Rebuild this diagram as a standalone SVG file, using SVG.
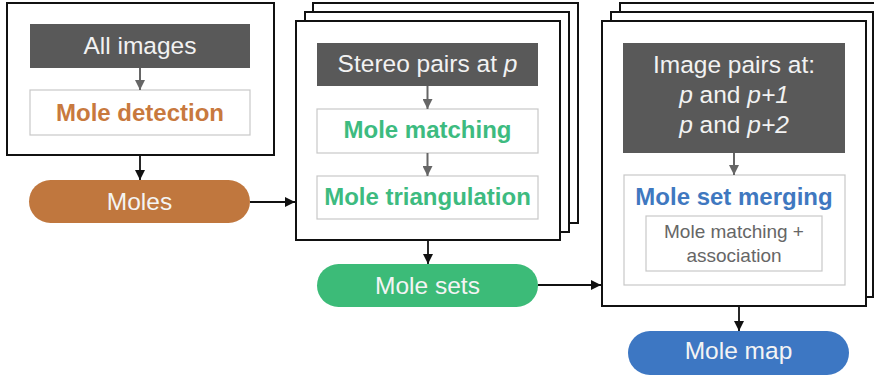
<svg xmlns="http://www.w3.org/2000/svg" width="874" height="376" viewBox="0 0 874 376">
  <defs>
    <marker id="headBlack" viewBox="0 0 10 10" refX="10" refY="5" markerWidth="10" markerHeight="10" markerUnits="userSpaceOnUse" orient="auto">
      <path d="M0,0 L10,5 L0,10 z" fill="#111"/>
    </marker>
    <marker id="headGray" viewBox="0 0 10 10" refX="10" refY="5" markerWidth="11" markerHeight="10" markerUnits="userSpaceOnUse" orient="auto">
      <path d="M0,0 L10,5 L0,10 z" fill="#666"/>
    </marker>
  </defs>
  <style>
    text { font-family: "Liberation Sans", Arial, sans-serif; text-anchor: middle; }
    .panel { fill: #fff; stroke: #111; stroke-width: 2; }
    .dark { fill: #595959; }
    .dark-text { fill: #f2f2f2; font-size: 24.5px; }
    .step { fill: #fff; stroke: #c8c8c8; stroke-width: 1.2; }
    .bold { font-weight: bold; font-size: 24px; }
    .pill-text { fill: #f4f4f4; font-size: 24.5px; }
    .small { fill: #666; font-size: 19px; }
    .inner-arrow { stroke: #666; stroke-width: 2; fill: none; }
    .outer-arrow { stroke: #111; stroke-width: 1.8; fill: none; }
  </style>

  <rect width="874" height="376" fill="#fff"/>

  <!-- Stage 1: detection over all images -->
  <g id="stage-detection">
    <rect class="panel" x="7" y="3" width="267" height="152"/>
    <rect class="dark" x="30" y="24" width="220" height="44"/>
    <text class="dark-text" x="140" y="54">All images</text>
    <rect class="step" x="30" y="90" width="220" height="45"/>
    <text class="bold" x="140" y="121" fill="#c8793e">Mole detection</text>
  </g>

  <g id="moles">
    <rect x="29" y="180" width="221" height="43" rx="21.5" fill="#c0773e"/>
    <text class="pill-text" x="139.5" y="210">Moles</text>
  </g>

  <!-- Stage 2: stacked per-position stereo processing -->
  <g id="stage-stereo">
    <rect class="panel" x="313" y="3" width="265" height="220"/>
    <rect class="panel" x="305" y="12" width="264" height="220"/>
    <rect class="panel" x="296" y="21" width="264" height="219"/>
    <rect class="dark" x="317" y="43" width="221" height="43"/>
    <text class="dark-text" x="427.5" y="72">Stereo pairs at <tspan font-style="italic">p</tspan></text>
    <rect class="step" x="317" y="109" width="221" height="44"/>
    <text class="bold" x="427.5" y="138" fill="#3dbb80">Mole matching</text>
    <rect class="step" x="317" y="176" width="221" height="43"/>
    <text class="bold" x="427.5" y="205" fill="#3dbb80">Mole triangulation</text>
  </g>

  <g id="mole-sets">
    <rect x="317" y="264" width="221" height="43" rx="21.5" fill="#3cbb78"/>
    <text class="pill-text" x="427.5" y="294">Mole sets</text>
  </g>

  <!-- Stage 3: stacked merging of mole sets -->
  <g id="stage-merging">
    <rect class="panel" x="620" y="3" width="262" height="285"/>
    <rect class="panel" x="611" y="12" width="262" height="285"/>
    <rect class="panel" x="602" y="21" width="264" height="285"/>
    <rect class="dark" x="623" y="43" width="222" height="110"/>
    <text class="dark-text" x="734" y="73">Image pairs at:</text>
    <text class="dark-text" x="734" y="103"><tspan font-style="italic">p</tspan> and <tspan font-style="italic">p+1</tspan></text>
    <text class="dark-text" x="734" y="133"><tspan font-style="italic">p</tspan> and <tspan font-style="italic">p+2</tspan></text>
    <rect class="step" x="624" y="175" width="221" height="110"/>
    <text class="bold" x="734" y="205" fill="#3f78c0">Mole set merging</text>
    <rect class="step" x="646" y="216" width="176" height="55"/>
    <text class="small" x="734" y="238">Mole matching +</text>
    <text class="small" x="734" y="262">association</text>
  </g>

  <g id="mole-map">
    <rect x="628" y="331" width="221" height="44" rx="22" fill="#3d77c3"/>
    <text class="pill-text" x="738.5" y="359">Mole map</text>
  </g>

  <g id="connectors">
    <line class="inner-arrow" x1="140" y1="68" x2="140" y2="90" marker-end="url(#headGray)"/>
    <line class="inner-arrow" x1="427.5" y1="86" x2="427.5" y2="109" marker-end="url(#headGray)"/>
    <line class="inner-arrow" x1="427.5" y1="153" x2="427.5" y2="176" marker-end="url(#headGray)"/>
    <line class="inner-arrow" x1="734" y1="153" x2="734" y2="175" marker-end="url(#headGray)"/>
    <line class="outer-arrow" x1="140" y1="156" x2="140" y2="180" marker-end="url(#headBlack)"/>
    <line class="outer-arrow" x1="250" y1="202" x2="295" y2="202" marker-end="url(#headBlack)"/>
    <line class="outer-arrow" x1="428" y1="241" x2="428" y2="264" marker-end="url(#headBlack)"/>
    <line class="outer-arrow" x1="538" y1="285" x2="601" y2="285" marker-end="url(#headBlack)"/>
    <line class="outer-arrow" x1="739" y1="307" x2="739" y2="331" marker-end="url(#headBlack)"/>
  </g>
</svg>
